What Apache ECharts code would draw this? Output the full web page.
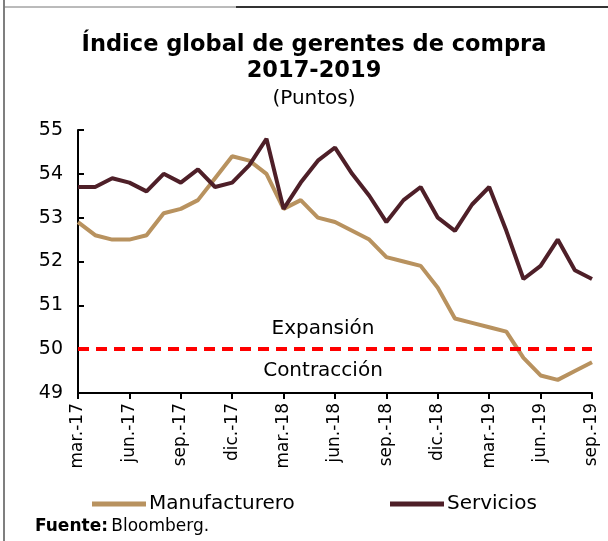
<!DOCTYPE html>
<html><head><meta charset="utf-8">
<script src="https://cdn.jsdelivr.net/npm/echarts@6/dist/echarts.min.js"></script>
<style>html,body{margin:0;padding:0;background:#fff}#c{width:608px;height:541px}</style>
</head><body><div id="c"></div>
<script>
const months = ['mar.-17','abr.-17','may.-17','jun.-17','jul.-17','ago.-17','sep.-17','oct.-17','nov.-17','dic.-17',
 'ene.-18','feb.-18','mar.-18','abr.-18','may.-18','jun.-18','jul.-18','ago.-18','sep.-18','oct.-18','nov.-18','dic.-18',
 'ene.-19','feb.-19','mar.-19','abr.-19','may.-19','jun.-19','jul.-19','ago.-19','sep.-19'];
const manufacturero = [52.9,52.6,52.5,52.5,52.6,53.1,53.2,53.4,53.9,54.4,
 54.3,54.0,53.2,53.4,53.0,52.9,52.7,52.5,52.1,52.0,51.9,51.4,
 50.7,50.6,50.5,50.4,49.8,49.4,49.3,49.5,49.7];
const servicios = [53.7,53.7,53.9,53.8,53.6,54.0,53.8,54.1,53.7,53.8,
 54.2,54.8,53.2,53.8,54.3,54.6,54.0,53.5,52.9,53.4,53.7,53.0,
 52.7,53.3,53.7,52.7,51.6,51.9,52.5,51.8,51.6];
const threshold = 50;
const F = 'DejaVu Sans';
const chart = echarts.init(document.getElementById('c'), null, {renderer:'canvas'});
chart.setOption({
  animation:false,
  textStyle:{fontFamily:F},
  title:{text:'Índice global de gerentes de compra\n2017-2019', subtext:'(Puntos)', left:309, top:27, textAlign:'center',
    textStyle:{fontFamily:F,fontSize:22.5,fontWeight:'bold',color:'#000',lineHeight:26},
    subtextStyle:{fontFamily:F,fontSize:20,color:'#000'}, itemGap:5},
  grid:{left:78,right:16,top:130,bottom:148},
  legend:[
    {left:87,top:489,data:['Manufacturero'],icon:'rect',itemWidth:54,itemHeight:5,itemGap:4,textStyle:{fontFamily:F,fontSize:20,color:'#000',padding:[0,0,0,-2]}},
    {left:385,top:489,data:['Servicios'],icon:'rect',itemWidth:54,itemHeight:5,itemGap:4,textStyle:{fontFamily:F,fontSize:20,color:'#000',padding:[0,0,0,-2]}}
  ],
  xAxis:{type:'category',data:months,boundaryGap:false,
    axisLine:{lineStyle:{color:'#000',width:2}},
    axisTick:{interval:2,length:6,lineStyle:{color:'#000',width:2}},
    axisLabel:{interval:2,rotate:90,fontFamily:F,fontSize:17,color:'#000',margin:10}},
  yAxis:{type:'value',min:49,max:55,interval:1,
    axisLine:{show:true,lineStyle:{color:'#000',width:2}},
    axisTick:{show:true,inside:true,length:6,lineStyle:{color:'#000',width:2}},
    splitLine:{show:false},
    axisLabel:{fontFamily:F,fontSize:19,color:'#000',margin:15}},
  series:[
    {name:'Manufacturero',type:'line',data:manufacturero,showSymbol:false,symbol:'none',color:'#b8925f',lineStyle:{width:4,color:'#b8925f'},
     markLine:{silent:true,symbol:'none',animation:false,
       lineStyle:{color:'#ff0000',width:4,type:[11,7]},
       data:[
         {yAxis:threshold,label:{formatter:'Expansión',position:'insideMiddleTop',color:'#000',fontFamily:F,fontSize:20,distance:10,offset:[-12,0]}},
         {yAxis:threshold,label:{formatter:'Contracción',position:'insideMiddleBottom',color:'#000',fontFamily:F,fontSize:20,distance:12,offset:[-12,0]}}
       ]}},
    {name:'Servicios',type:'line',data:servicios,showSymbol:false,symbol:'none',color:'#4e1f28',lineStyle:{width:4,color:'#4e1f28'},z:3}
  ],
  graphic:[
    {type:'line',shape:{x1:4,y1:0,x2:4,y2:541},style:{stroke:'#555',lineWidth:1.5}},
    {type:'line',shape:{x1:4,y1:7,x2:236,y2:7},style:{stroke:'#777',lineWidth:1}},
    {type:'line',shape:{x1:236,y1:7,x2:608,y2:7},style:{stroke:'#333',lineWidth:2}},
    {type:'text',left:35,top:518,style:{rich:{b:{fontWeight:'bold',fontSize:17,fontFamily:F,fill:'#000',lineHeight:20},n:{fontSize:17,fontFamily:F,fill:'#000',lineHeight:20}},text:'{b|Fuente:} {n|Bloomberg.}'}}
  ]
});
</script></body></html>
